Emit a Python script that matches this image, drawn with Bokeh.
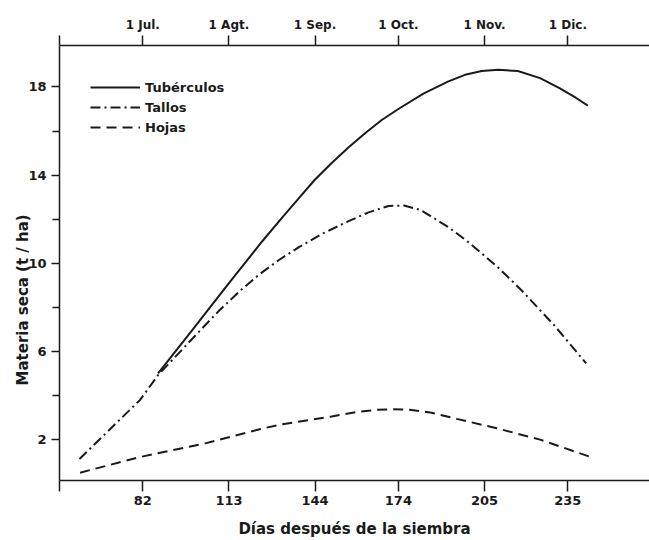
from bokeh.plotting import figure
from bokeh.models import Range1d, LinearAxis, FixedTicker, Legend, LegendItem, Title
from bokeh.embed import file_html
from bokeh.resources import INLINE

# ---- data ----
dias_tub = [87.5, 100, 113, 125, 132, 138.5, 144, 150, 156, 162, 168, 174, 183, 192, 198,
            204, 210, 217, 225, 232, 238, 242.2]
tuberculos = [5.0, 7.0, 9.1, 11.0, 12.05, 13.0, 13.8, 14.55, 15.25, 15.9, 16.5, 17.0, 17.7,
              18.25, 18.55, 18.72, 18.78, 18.72, 18.4, 17.95, 17.5, 17.15]

dias_tal = [59.2, 70, 81, 87.5, 100, 109.6, 117, 124, 131, 138.3, 146, 155, 163, 170.5, 176,
            182, 192, 199.2, 210, 218.3, 230, 241.6]
tallos = [1.12, 2.45, 3.8, 4.93, 6.6, 7.87, 8.75, 9.5, 10.15, 10.74, 11.3, 11.85, 12.3, 12.6,
          12.62, 12.42, 11.64, 10.96, 9.8, 8.78, 7.2, 5.46]

dias_hoj = [59.4, 81, 104.8, 124, 131, 150, 160, 166, 172, 178, 186, 195, 209, 225, 243]
hojas = [0.5, 1.21, 1.84, 2.47, 2.67, 3.05, 3.27, 3.35, 3.38, 3.36, 3.22, 2.94, 2.53, 2.0, 1.22]

x_ticks = [82, 113, 144, 174, 205, 235]
x_tick_labels = ["82", "113", "144", "174", "205", "235"]
mes_labels = ["1 Jul.", "1 Agt.", "1 Sep.", "1 Oct.", "1 Nov.", "1 Dic."]
y_ticks = [2, 6, 10, 14, 18]
y_minor = [4, 8, 12, 16]

FONT = "DejaVu Sans"
INK = "#1a1a1a"

X0, X1 = 52, 264.4
Y0, Y1 = 0.145, 19.88

p = figure(width=649, height=540, output_backend="svg", toolbar_location=None,
           x_range=Range1d(X0, X1), y_range=Range1d(Y0, Y1),
           min_border_left=59, min_border_right=0, min_border_top=45, min_border_bottom=59)
p.grid.visible = False
p.outline_line_color = None
p.background_fill_color = "white"
p.border_fill_color = "white"

def style_axis(ax):
    ax.axis_line_color = INK
    ax.axis_line_width = 1.5
    ax.major_tick_line_color = INK
    ax.major_tick_line_width = 1.5
    ax.minor_tick_line_color = INK
    ax.minor_tick_line_width = 1.5
    ax.major_tick_in = 0
    ax.minor_tick_in = 0
    ax.major_label_text_font = FONT
    ax.major_label_text_font_style = "bold"
    ax.major_label_text_font_size = "13px"
    ax.major_label_text_color = INK
    ax.axis_label_text_font = FONT
    ax.axis_label_text_font_style = "bold"
    ax.axis_label_text_font_size = "15px"
    ax.axis_label_text_color = INK

# bottom axis
xa = p.xaxis[0]
style_axis(xa)
xa.ticker = FixedTicker(ticks=[X0] + x_ticks)
ov = {X0: ""}
ov.update({t: l for t, l in zip(x_ticks, x_tick_labels)})
xa.major_label_overrides = ov
xa.major_tick_out = 11
xa.minor_tick_out = 0
xa.major_label_standoff = 4
xa.axis_label = "Días después de la siembra"
xa.axis_label_standoff = 12

# left axis
ya = p.yaxis[0]
style_axis(ya)
ya.ticker = FixedTicker(ticks=y_ticks, minor_ticks=y_minor)
ya.major_tick_out = 8
ya.minor_tick_out = 7
ya.major_label_standoff = 5

# top axis (months)
ta = LinearAxis()
style_axis(ta)
ta.ticker = FixedTicker(ticks=[X0] + x_ticks)
ov2 = {X0: ""}
ov2.update({t: l for t, l in zip(x_ticks, mes_labels)})
ta.major_label_overrides = ov2
ta.major_tick_out = 10
ta.minor_tick_out = 0
ta.major_label_standoff = 4
ta.major_label_text_font_size = "12px"
p.add_layout(ta, "above")

# curves
r_tub = p.line(dias_tub, tuberculos, line_color=INK, line_width=2)
r_tal = p.line(dias_tal, tallos, line_color=INK, line_width=2, line_dash="10 4 2 4")
r_hoj = p.line(dias_hoj, hojas, line_color=INK, line_width=2, line_dash="10 6")

legend = Legend(items=[LegendItem(label="Tubérculos", renderers=[r_tub]),
                       LegendItem(label="Tallos", renderers=[r_tal]),
                       LegendItem(label="Hojas", renderers=[r_hoj])],
                location=(31, 345))
legend.border_line_color = None
legend.background_fill_alpha = 0
legend.glyph_width = 50
legend.glyph_height = 16
legend.label_height = 16
legend.spacing = 4
legend.padding = 0
legend.margin = 0
legend.label_standoff = 5
legend.label_text_font = FONT
legend.label_text_font_style = "bold"
legend.label_text_font_size = "13px"
legend.label_text_color = INK
p.add_layout(legend)

# y-axis title (placed lower than centre, as in the reference)
ytitle = Title(text="Materia seca (t / ha)", align="left", offset=95,
               text_font=FONT, text_font_style="bold", text_font_size="15px",
               text_color=INK, standoff=-12)
p.add_layout(ytitle, "left")

open("out.html", "w").write(file_html(p, INLINE))
